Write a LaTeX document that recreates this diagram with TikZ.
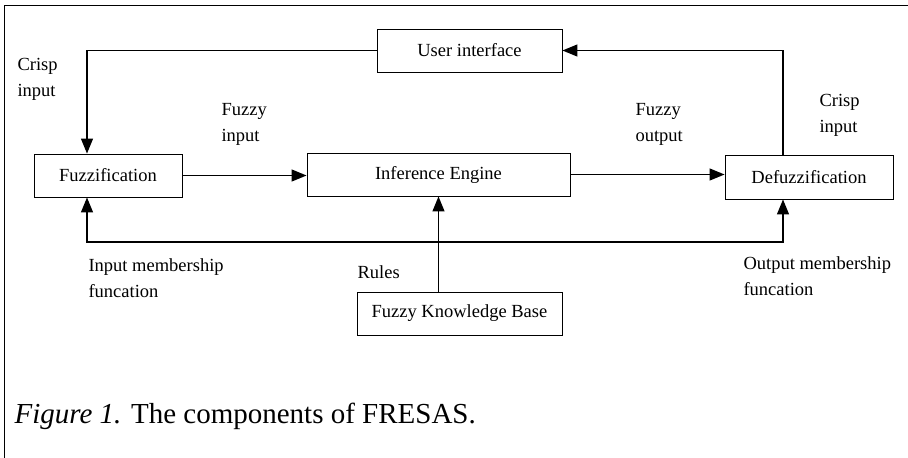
\documentclass[tikz,border=0pt]{standalone}
\usepackage{fontspec}
\setmainfont{Liberation Serif}
\usetikzlibrary{arrows.meta}

\begin{document}
\begin{tikzpicture}[x=1pt, y=-1pt, line width=1.1pt,
    >={Triangle[length=15pt, width=12pt]}]
	\tikzset{
	    block/.style= {draw, line width=0.9pt, inner sep=0pt, font=\fontsize{18.5}{26}\selectfont},
	    lbl/.style= {anchor=west, align=left, inner sep=0pt, font=\fontsize{18.5}{26}\selectfont},
	    flow/.style= {->, line width=1.3pt},
	}
	\useasboundingbox (0,0) rectangle (908,458);
	\draw[line width=1pt] (4,458) -- (4,5) -- (908,5);

	\node[block, minimum width=185pt, minimum height=43pt] (ui) at (469.5, 50.5) {User interface};
	\node[block, minimum width=148pt, minimum height=43pt] (fuzz) at (108, 175.5) {Fuzzification};
	\node[block, minimum width=263pt, minimum height=43pt] (inf) at (438.5, 174.5) {Inference Engine};
	\node[block, minimum width=168pt, minimum height=44pt] (defuzz) at (809, 177) {Defuzzification};
	\node[block, minimum width=205pt, minimum height=43pt] (kb) at (459.5, 313.5) {Fuzzy Knowledge Base};

	\coordinate (memb) at (783, 242);

	\draw[flow] (ui.west) -| ([xshift=-21pt]fuzz.north);
	\draw[flow] ([xshift=-26pt]defuzz.north) |- (ui.east);
	\draw[flow] (fuzz.east) -- (fuzz.east -| inf.west);
	\draw[flow] (inf.east) -- (inf.east -| defuzz.west);
	\draw[flow, <->] ([xshift=-21pt]fuzz.south) |- (memb) -- (memb |- defuzz.south);
	\draw[flow] (kb.north -| inf.south) -- (inf.south);

	\node[lbl] (crispin) at (17, 79) {Crisp\\input};
	\node[lbl] (fuzzyin) at (221, 124.5) {Fuzzy\\input};
	\node[lbl] (fuzzyout) at (635, 124.5) {Fuzzy\\output};
	\node[lbl] (crispout) at (819, 115.5) {Crisp\\input};
	\node[lbl] (inmemb) at (88, 278.5) {Input membership\\funcation};
	\node[lbl] (rules) at (357, 272) {Rules};
	\node[lbl] (outmemb) at (743, 276.5) {Output membership\\funcation};

	\node[anchor=base west, inner sep=0pt, font=\fontsize{29}{34}\selectfont] (caption) at (14, 423)
	    {\textit{Figure 1.} The components of FRESAS.};
\end{tikzpicture}
\end{document}
